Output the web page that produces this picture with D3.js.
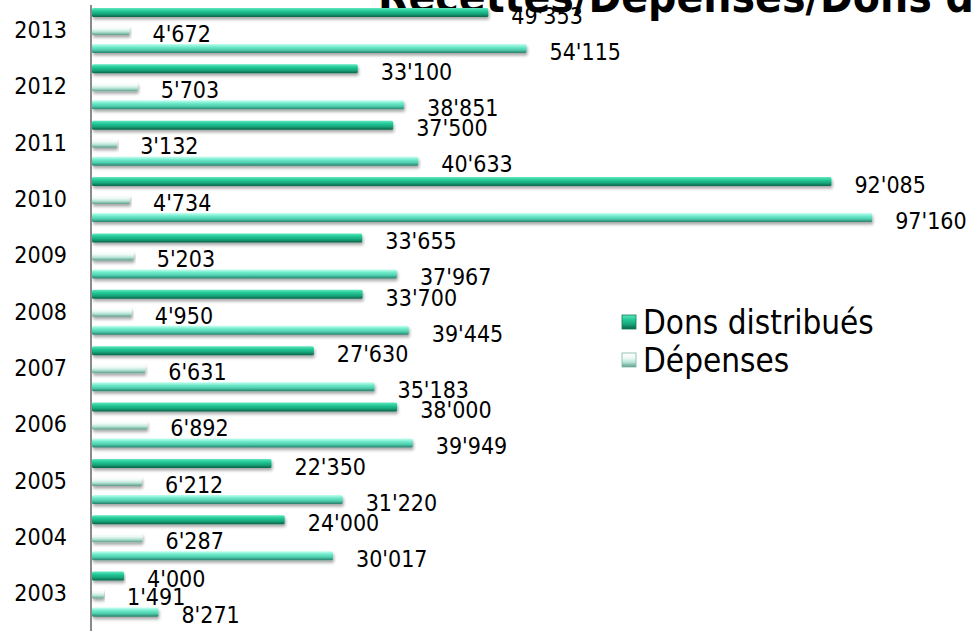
<!DOCTYPE html>
<html>
<head>
<meta charset="utf-8">
<script src="https://cdn.jsdelivr.net/npm/d3@7"></script>
<style>
	body { margin: 0; background: #fff; overflow: hidden; }
	text { font-family: "DejaVu Sans Condensed", "DejaVu Sans", sans-serif; }
</style>
</head>
<body>
<div class="js-results"></div>
<script>
'use strict';

const YEARS = [2003, 2004, 2005, 2006, 2007, 2008, 2009, 2010, 2011, 2012, 2013];
const SERIES = ['Dons distribués', 'Dépenses', 'Recettes'];
const DONS = [4000, 24000, 22350, 38000, 27630, 33700, 33655, 92085, 37500, 33100, 49353];
const DEPENSES = [1491, 6287, 6212, 6892, 6631, 4950, 5203, 4734, 3132, 5703, 4672];
const RECETTES = [8271, 30017, 31220, 39949, 35183, 39445, 37967, 97160, 40633, 38851, 54115];
const TITLE = 'Recettes/Dépenses/Dons distribués';

function drawChart() {

	let svgWidth = 973;
	let svgHeight = 631;

	const values = { 'Dons distribués': DONS, 'Dépenses': DEPENSES, 'Recettes': RECETTES };

	const rows = [];
	YEARS.forEach(function(year, i) {
		SERIES.forEach(function(s) {
			rows.push({ year: year, series: s, value: values[s][i] });
		});
	});

	const fmt = d3.formatLocale({ decimal: '.', thousands: "'", grouping: [3], currency: ['', ''] }).format(',');

	const xScale = d3.scaleLinear()
		.domain([0, 100000])
		.range([92, 895]);

	// 2013 on top
	const yScale = d3.scaleBand()
		.domain(YEARS.slice().reverse())
		.range([2.3, 622.3]);

	const ySub = d3.scaleBand()
		.domain(SERIES)
		.range([0, yScale.bandwidth()])
		.paddingInner(0.5)
		.paddingOuter(0.315);

	const svg = d3.select('.js-results')
		.append('svg')
		.attr('width', svgWidth)
		.attr('height', svgHeight);

	const defs = svg.append('defs');

	const grads = {
		'Dons distribués': ['#5ee8bd', '#22c796', '#17a77c', '#0b6349'],
		'Dépenses': ['#ffffff', '#eefaf6', '#b9e6d8', '#5e9e8c'],
		'Recettes': ['#c4fff0', '#6de9c9', '#4fcfae', '#2a7f6b']
	};

	SERIES.forEach(function(s, i) {
		const g = defs.append('linearGradient')
			.attr('id', 'grad' + i)
			.attr('x1', 0).attr('y1', 0)
			.attr('x2', 0).attr('y2', 1);
		const c = grads[s];
		g.append('stop').attr('offset', '0%').attr('stop-color', c[0]);
		g.append('stop').attr('offset', '35%').attr('stop-color', c[1]);
		g.append('stop').attr('offset', '65%').attr('stop-color', c[2]);
		g.append('stop').attr('offset', '100%').attr('stop-color', c[3]);
	});

	const shadow = defs.append('filter')
		.attr('id', 'shadow')
		.attr('x', '-5%').attr('y', '-50%')
		.attr('width', '110%').attr('height', '250%');
	shadow.append('feDropShadow')
		.attr('dx', 1)
		.attr('dy', 2.5)
		.attr('stdDeviation', 1.5)
		.attr('flood-color', '#000')
		.attr('flood-opacity', 0.35);

	// title, mostly off the top and right edges like the original
	svg.append('text')
		.attr('x', 378)
		.attr('y', 12)
		.attr('font-size', 44)
		.attr('font-weight', 'bold')
		.attr('fill', '#000')
		.text(TITLE);

	//Create bars
	svg.selectAll('rect.bar')
		.data(rows)
		.enter()
		.append('rect')
		.classed('bar', true)
		.attr('x', xScale(0))
		.attr('y', d => yScale(d.year) + ySub(d.series))
		.attr('width', d => xScale(d.value) - xScale(0))
		.attr('height', ySub.bandwidth())
		.attr('rx', 1.5)
		.attr('fill', d => 'url(#grad' + SERIES.indexOf(d.series) + ')')
		.attr('filter', 'url(#shadow)');

	// value labels
	svg.selectAll('text.value')
		.data(rows)
		.enter()
		.append('text')
		.classed('value', true)
		.attr('x', d => xScale(d.value) + 23)
		.attr('y', d => yScale(d.year) + ySub(d.series) + ySub.bandwidth() / 2 + 3)
		.attr('dy', '0.36em')
		.attr('font-size', 23)
		.attr('fill', '#000')
		.text(d => fmt(d.value));

	// year axis
	const yAxis = d3.axisLeft(yScale).tickSize(0).tickPadding(24);
	const axisG = svg.append('g')
		.attr('transform', 'translate(91,0)')
		.call(yAxis);
	axisG.select('.domain').remove();
	axisG.selectAll('.tick text')
		.attr('font-size', 23)
		.attr('fill', '#000')
		.attr('font-family', '"DejaVu Sans Condensed", "DejaVu Sans", sans-serif');

	svg.append('line')
		.attr('x1', 91).attr('x2', 91)
		.attr('y1', 5).attr('y2', 631)
		.attr('stroke', '#8a8a8a')
		.attr('stroke-width', 2);

	// legend (Recettes entry is off the picture in the original)
	const legend = svg.append('g')
		.attr('transform', 'translate(622,315)');
	SERIES.slice(0, 2).forEach(function(s, i) {
		const item = legend.append('g')
			.attr('transform', 'translate(0,' + (i * 38) + ')');
		item.append('rect')
			.attr('width', 14)
			.attr('height', 14)
			.attr('fill', 'url(#grad' + i + ')')
			.attr('stroke', i === 0 ? '#0f7a5a' : '#7fb5a6')
			.attr('stroke-width', 0.8);
		item.append('text')
			.attr('x', 21)
			.attr('y', 7)
			.attr('dy', '0.36em')
			.attr('font-size', 33)
			.attr('font-family', '"DejaVu Sans", sans-serif')
			.attr('fill', '#000')
			.text(s);
	});
}

drawChart();
</script>
</body>
</html>
